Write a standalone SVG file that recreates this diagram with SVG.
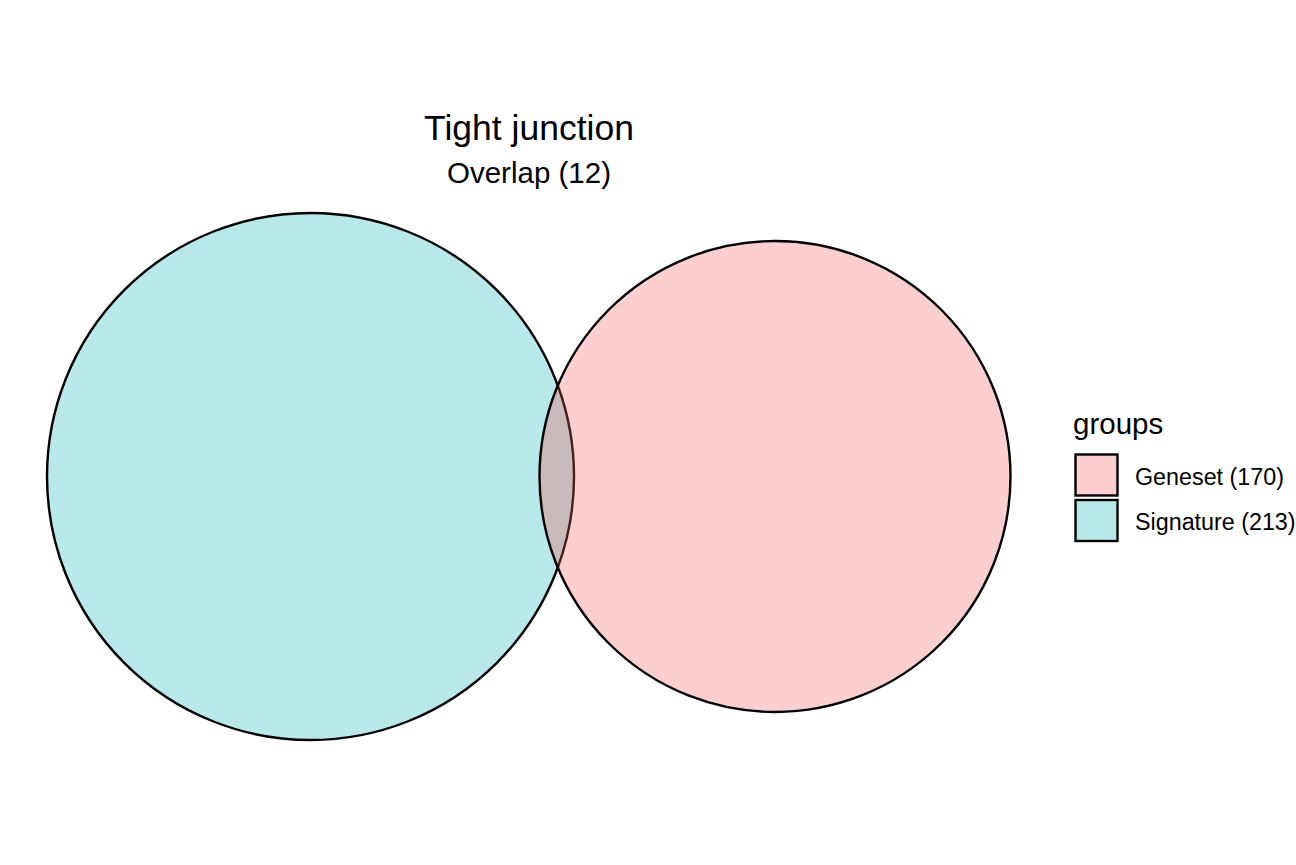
<svg xmlns="http://www.w3.org/2000/svg" width="1296" height="865" viewBox="0 0 1296 865">
<style>
text{font-family:"Liberation Sans",Arial,sans-serif;fill:#000}
.edge{stroke:#000;stroke-width:2.4;fill:none}
</style>
<rect width="1296" height="865" fill="#fff"/>
<g id="signature">
<circle cx="310.5" cy="476.5" r="263.5" fill="#B9E8E8" stroke="#000" stroke-width="2.4"/>
</g>
<g id="geneset">
<circle cx="775" cy="476.5" r="235.5" fill="#FBCFD0"/>
</g>
<g id="overlap">
<path d="M557.8,385.5 A235.5,235.5 0 0 0 557.8,567.5 A263.5,263.5 0 0 0 557.8,385.5 Z" fill="#C9BBBC"/>
<path d="M557.8,567.5 A263.5,263.5 0 0 0 557.8,385.5" fill="none" stroke="#4A1C1C" stroke-width="2.4"/>
</g>
<g id="geneset-outline">
<circle class="edge" cx="775" cy="476.5" r="235.5"/>
</g>
<g id="title">
<text x="529" y="140" font-size="35.5" text-anchor="middle">Tight junction</text>
<text x="529" y="183" font-size="29.5" text-anchor="middle">Overlap (12)</text>
</g>
<g id="legend">
<text x="1073" y="434" font-size="29.5">groups</text>
<rect x="1075.5" y="454.5" width="42" height="41" fill="#FBCFD0" stroke="#000" stroke-width="2.4"/>
<rect x="1075.5" y="500" width="42" height="41" fill="#B9E8E8" stroke="#000" stroke-width="2.4"/>
<text x="1135" y="485" font-size="23.3">Geneset (170)</text>
<text x="1135" y="530" font-size="23.3">Signature (213)</text>
</g>
</svg>
